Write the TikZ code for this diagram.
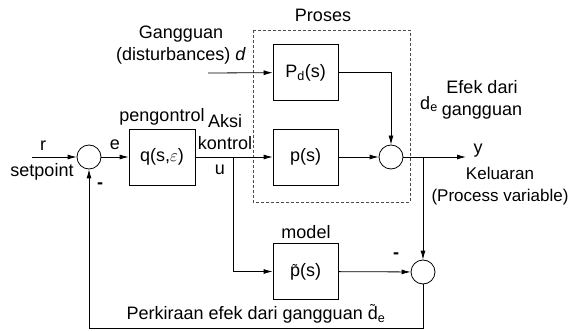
\documentclass[tikz,border=0pt]{standalone}
\usepackage{fontspec}
\setmainfont{Liberation Sans}
\usetikzlibrary{arrows.meta}
\newcommand{\gelombang}[2]{\setbox0\hbox{#2}\rlap{\hbox to\wd0{\hss\raisebox{#1}{\fontsize{14}{14}\selectfont\char"02DC}\hss}}#2}

\begin{document}
\begin{tikzpicture}[
  x=1pt, y=-1pt,
  line width=0.8pt,
  font=\fontsize{18}{22}\selectfont,
  blok/.style={draw,minimum width=65pt,minimum height=56pt,inner sep=0pt},
  sum/.style={circle,draw,minimum size=24pt,inner sep=0pt},
  teks/.style={inner sep=0pt,align=center},
  >={Latex[length=9pt,width=5pt]}
]
\useasboundingbox (0,0) rectangle (570,331);
\draw[dash pattern=on 3pt off 2pt,gray!60!black,line width=0.6pt] (253,30) rectangle (410,202);
\node[teks] (proses) at (323,15) {Proses};

\node[sum] (sr) at (89,157) {};
\node[blok,minimum width=66pt] (q) at (162,157) {q(s,$\varepsilon$)};
\node[blok] (pd) at (305.5,72.5) {P\textsubscript{d}(s)};
\node[blok] (p) at (305.5,157) {p(s)};
\node[blok] (m) at (305.5,271.5) {\gelombang{2pt}{p}(s)};
\node[sum] (s1) at (391,157) {};
\node[sum] (s2) at (423,272) {};

\coordinate (r0) at (32,157);
\coordinate (d0) at (208,73);
\coordinate (u0) at (233,157);
\coordinate (y0) at (423,157);
\coordinate (y1) at (466,157);
\coordinate (b0) at (89,328);

\draw[->] (r0) -- (sr);
\draw[->] (sr) -- (q);
\draw[->] (q) -- (p);
\draw[->] (d0) -- (pd);
\draw[->] (pd) -| (s1);
\draw[->] (p) -- (s1);
\draw[->] (s1) -- (y1);
\draw[->] (y0) -- (s2);
\draw[->] (u0) |- (m);
\draw[->] (m) -- (s2);
\draw[->] (s2) |- (b0) -- (sr);

\node[teks] (gang) at (181,45) {Gangguan\\(disturbances) \textit{d}};
\node[teks] (r) at (43,146) {r};
\node[teks] (setp) at (42,172) {setpoint};
\node[teks] (e) at (115,145) {e};
\node[teks] (min1) at (100,186) {\textbf{-}};
\node[teks] (peng) at (162,117) {pengontrol};
\node[teks] (aksi) at (225,132) {Aksi\\kontrol};
\node[teks] (u) at (220,170) {u};
\node[teks] (de) at (429,104) {d\textsubscript{e}};
\node[teks] (efek) at (482,100) {Efek dari\\gangguan};
\node[teks] (y) at (478,151) {y};
\node[teks,font=\fontsize{17}{22}\selectfont] (kel) at (500,186) {Keluaran\\(Process variable)};
\node[teks] (model) at (306,232) {model};
\node[teks] (min2) at (396,256) {\textbf{-}};
\node[teks] (perk) at (256,314) {Perkiraan efek dari gangguan \gelombang{5pt}{d}\textsubscript{e}};
\end{tikzpicture}
\end{document}
